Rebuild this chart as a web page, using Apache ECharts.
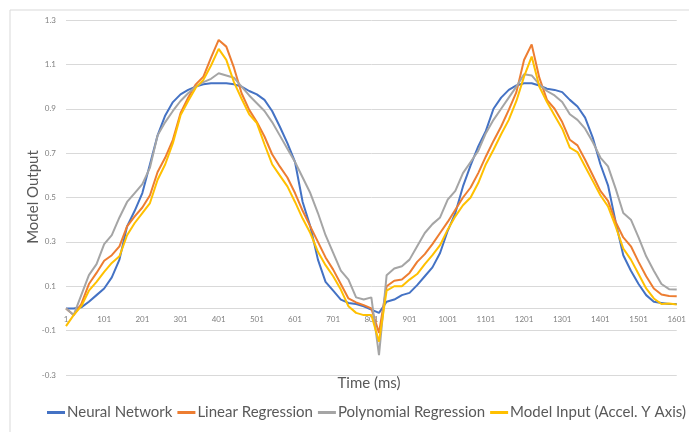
<!DOCTYPE html>
<html>
<head>
<meta charset="utf-8">
<script src="https://cdn.jsdelivr.net/npm/echarts@6/dist/echarts.min.js"></script>
<style>
  html, body { margin: 0; padding: 0; background: #fff; }
  #main { width: 689px; height: 432px; }
</style>
</head>
<body>
<div id="main"></div>
<script>
// time samples (ms), every 20 ms
const times = [
  1, 21, 41, 61, 81, 101, 121, 141, 161, 181,
  201, 221, 241, 261, 281, 301, 321, 341, 361, 381,
  401, 421, 441, 461, 481, 501, 521, 541, 561, 581,
  601, 621, 641, 661, 681, 701, 721, 741, 761, 781,
  801, 821, 841, 861, 881, 901, 921, 941, 961, 981,
  1001, 1021, 1041, 1061, 1081, 1101, 1121, 1141, 1161, 1181,
  1201, 1221, 1241, 1261, 1281, 1301, 1321, 1341, 1361, 1381,
  1401, 1421, 1441, 1461, 1481, 1501, 1521, 1541, 1561, 1581,
  1601
];

const neuralNetwork = [
  0.0, 0.0, 0.005, 0.03, 0.06, 0.09, 0.14, 0.22, 0.37, 0.44,
  0.52, 0.65, 0.78, 0.87, 0.93, 0.965, 0.985, 1.0, 1.01, 1.015,
  1.015, 1.015, 1.01, 1.0, 0.98, 0.965, 0.94, 0.89, 0.82, 0.745,
  0.66, 0.48, 0.37, 0.22, 0.12, 0.08, 0.04, 0.025, 0.02, 0.01,
  -0.005, -0.02, 0.03, 0.04, 0.06, 0.07, 0.105, 0.145, 0.185, 0.25,
  0.35, 0.43, 0.55, 0.645, 0.73, 0.80, 0.90, 0.95, 0.985, 1.005,
  1.015, 1.015, 1.005, 0.99, 0.985, 0.975, 0.94, 0.91, 0.86, 0.77,
  0.65, 0.555, 0.39, 0.24, 0.17, 0.11, 0.06, 0.03, 0.025, 0.02,
  0.02
];

const linearRegression = [
  0.0, -0.03, 0.02, 0.11, 0.16, 0.215, 0.24, 0.28, 0.37, 0.415,
  0.455, 0.51, 0.615, 0.68, 0.76, 0.88, 0.95, 1.01, 1.045, 1.13,
  1.21, 1.18, 1.085, 0.97, 0.895, 0.84, 0.775, 0.695, 0.64, 0.59,
  0.52, 0.44, 0.37, 0.30, 0.23, 0.175, 0.11, 0.045, 0.027, 0.015,
  0.0, -0.11, 0.10, 0.125, 0.13, 0.16, 0.21, 0.245, 0.29, 0.34,
  0.39, 0.445, 0.50, 0.545, 0.61, 0.685, 0.755, 0.82, 0.895, 0.975,
  1.12, 1.19, 1.04, 0.94, 0.90, 0.84, 0.76, 0.735, 0.67, 0.60,
  0.53, 0.485, 0.39, 0.32, 0.28, 0.21, 0.145, 0.09, 0.063, 0.056,
  0.055
];

const polynomialRegression = [
  0.0, -0.03, 0.06, 0.15, 0.20, 0.29, 0.33, 0.41, 0.48, 0.52,
  0.56, 0.635, 0.78, 0.84, 0.89, 0.935, 0.97, 1.0, 1.02, 1.035,
  1.06, 1.05, 1.04, 1.0, 0.96, 0.925, 0.89, 0.84, 0.78, 0.72,
  0.66, 0.59, 0.52, 0.43, 0.33, 0.25, 0.17, 0.13, 0.05, 0.04,
  0.05, -0.21, 0.15, 0.18, 0.19, 0.22, 0.28, 0.34, 0.38, 0.41,
  0.49, 0.53, 0.61, 0.66, 0.71, 0.79, 0.85, 0.90, 0.95, 1.0,
  1.055, 1.05, 1.01, 0.98, 0.96, 0.93, 0.875, 0.85, 0.81, 0.75,
  0.68, 0.64, 0.54, 0.43, 0.40, 0.32, 0.235, 0.17, 0.11, 0.087,
  0.085
];

const modelInput = [
  -0.08, -0.03, 0.01, 0.08, 0.12, 0.165, 0.205, 0.235, 0.33, 0.385,
  0.43, 0.475, 0.58, 0.65, 0.745, 0.87, 0.935, 0.995, 1.03, 1.095,
  1.17, 1.12, 1.02, 0.945, 0.875, 0.835, 0.74, 0.65, 0.60, 0.55,
  0.48, 0.405, 0.34, 0.255, 0.195, 0.145, 0.085, 0.01, -0.02, -0.03,
  -0.03, -0.15, 0.08, 0.10, 0.10, 0.13, 0.155, 0.20, 0.24, 0.285,
  0.355, 0.415, 0.465, 0.50, 0.565, 0.65, 0.715, 0.785, 0.85, 0.935,
  1.045, 1.135, 1.0, 0.93, 0.87, 0.81, 0.725, 0.705, 0.64, 0.575,
  0.51, 0.46, 0.37, 0.27, 0.22, 0.155, 0.09, 0.045, 0.02, 0.022,
  0.018
];

const seriesNames = ['Neural Network', 'Linear Regression', 'Polynomial Regression', 'Model Input (Accel. Y Axis)'];
const seriesColors = ['#4472C4', '#ED7D31', '#A5A5A5', '#FFC000'];
const seriesValues = [neuralNetwork, linearRegression, polynomialRegression, modelInput];

const font = 'Lato, "Open Sans", sans-serif';

const myChart = echarts.init(document.getElementById('main'));
myChart.setOption({
  animation: false,
  backgroundColor: '#fff',
  textStyle: { fontFamily: font },
  grid: { left: 66, right: 8, top: 20, bottom: 57, containLabel: false },
  graphic: [
    {
      type: 'rect',
      shape: { x: 10, y: 10, width: 700, height: 440 },
      style: { fill: 'none', stroke: '#d9d9d9', lineWidth: 1 },
      z: -1
    },
    {
      type: 'text',
      x: 33, y: 197,
      rotation: Math.PI / 2,
      style: {
        text: 'Model Output', fill: '#595959', font: '15px ' + font,
        textAlign: 'center', textVerticalAlign: 'middle'
      }
    },
    {
      type: 'text',
      x: 369, y: 383,
      style: {
        text: 'Time (ms)', fill: '#595959', font: '15px ' + font,
        textAlign: 'center', textVerticalAlign: 'middle'
      }
    }
  ],
  legend: {
    bottom: 7,
    left: 42,
    width: 680,
    icon: 'rect',
    itemWidth: 18,
    itemHeight: 3,
    itemGap: 5,
    textStyle: { color: '#595959', fontSize: 15, fontFamily: font, padding: [0, 0, 0, -3] },
    data: seriesNames
  },
  xAxis: {
    type: 'value',
    min: 1,
    max: 1601,
    interval: 100,
    position: 'bottom',
    offset: -67,
    axisLine: { onZero: false, lineStyle: { color: '#d9d9d9', width: 1 } },
    axisTick: { show: false },
    splitLine: { show: false },
    axisLabel: {
      color: '#808080', fontSize: 8, margin: 7, showMaxLabel: true,
      formatter: function (v) { return String(v); }
    }
  },
  yAxis: {
    type: 'value',
    min: -0.3,
    max: 1.3,
    interval: 0.2,
    axisLine: { show: false },
    axisTick: { show: false },
    splitLine: { lineStyle: { color: '#d9d9d9', width: 1 } },
    axisLabel: {
      color: '#808080', fontSize: 8, margin: 10,
      formatter: function (v) { return (Math.round(v * 10) / 10).toFixed(1); }
    }
  },
  series: seriesValues.map(function (vals, i) {
    return {
      name: seriesNames[i],
      type: 'line',
      symbol: 'none',
      smooth: false,
      color: seriesColors[i],
      lineStyle: { color: seriesColors[i], width: 2 },
      data: times.map(function (t, j) { return [t, vals[j]]; })
    };
  })
});
</script>
</body>
</html>
